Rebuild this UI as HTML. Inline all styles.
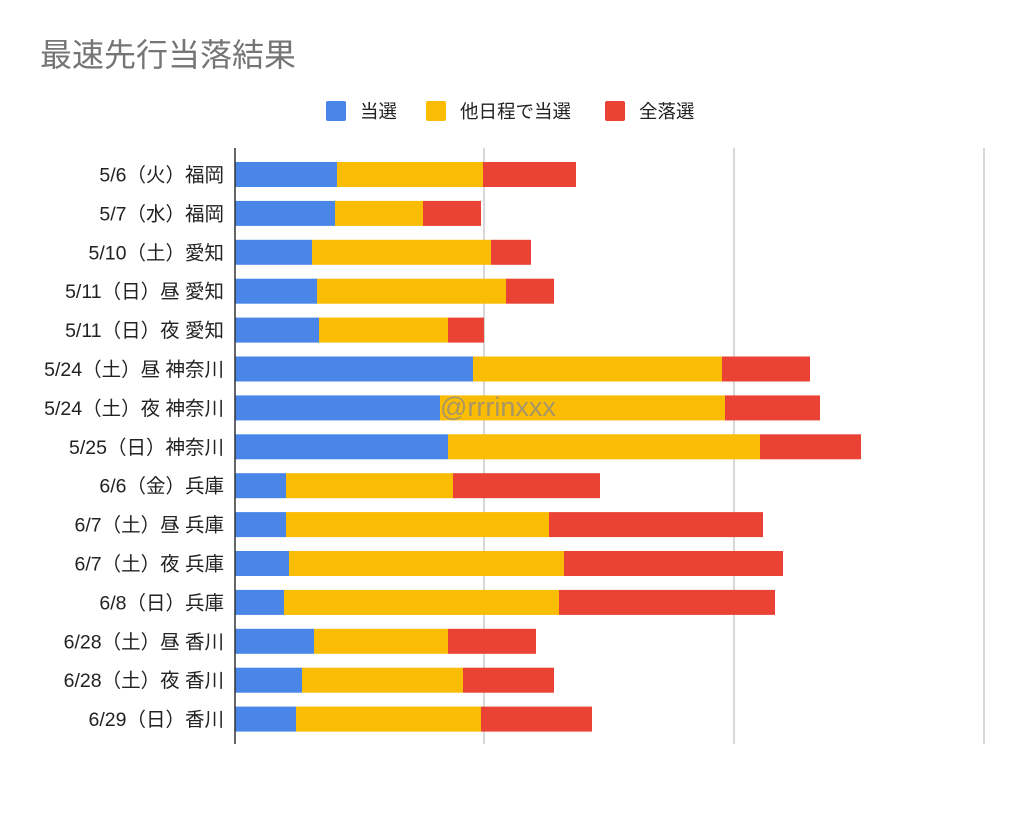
<!DOCTYPE html>
<html><head><meta charset="utf-8"><style>
body{margin:0;background:#fff}
text{font-family:"Liberation Sans","Noto Sans CJK JP",sans-serif}
</style></head><body>
<svg width="1024" height="815" xmlns="http://www.w3.org/2000/svg">
<rect width="1024" height="815" fill="#fff"/>
<text x="40" y="66" font-size="32" fill="#757575">最速先行当落結果</text>
<rect x="326" y="101" width="20" height="20" rx="2" fill="#4a86e8"/>
<text x="360" y="118" font-size="18.5" fill="#222">当選</text>
<rect x="426" y="101" width="20" height="20" rx="2" fill="#fbbc04"/>
<text x="460" y="118" font-size="18.5" fill="#222">他日程で当選</text>
<rect x="605" y="101" width="20" height="20" rx="2" fill="#ea4335"/>
<text x="639" y="118" font-size="18.5" fill="#222">全落選</text>
<g stroke="#ccc" stroke-width="1.5">
<line x1="484" y1="148" x2="484" y2="744"/>
<line x1="734" y1="148" x2="734" y2="744"/>
<line x1="984" y1="148" x2="984" y2="744"/>
</g>
<g id="bars"></g>
<line x1="235" y1="148" x2="235" y2="744" stroke="#333" stroke-width="1.5"/>
<text x="440" y="416" font-size="27" fill="#8a8a8a" fill-opacity="0.75">@rrrinxxx</text>
<g font-size="19.5" fill="#222" text-anchor="end" id="labels"></g>
<script>
var d=[["5/6（火）福岡",337,483,576],["5/7（水）福岡",335,423,481],["5/10（土）愛知",312,491,531],["5/11（日）昼 愛知",317,506,554],["5/11（日）夜 愛知",319,448,484],["5/24（土）昼 神奈川",473,722,810],["5/24（土）夜 神奈川",440,725,820],["5/25（日）神奈川",448,760,861],["6/6（金）兵庫",286,453,600],["6/7（土）昼 兵庫",286,549,763],["6/7（土）夜 兵庫",289,564,783],["6/8（日）兵庫",284,559,775],["6/28（土）昼 香川",314,448,536],["6/28（土）夜 香川",302,463,554],["6/29（日）香川",296,481,592]];
var ns="http://www.w3.org/2000/svg",b=document.getElementById("bars"),l=document.getElementById("labels");
d.forEach(function(r,i){var cy=174.5+i*38.9,y=cy-12.5;
function R(x1,x2,c){var e=document.createElementNS(ns,"rect");e.setAttribute("x",x1);e.setAttribute("y",y);e.setAttribute("width",x2-x1);e.setAttribute("height",25);e.setAttribute("fill",c);b.appendChild(e);}
R(235,r[1],"#4a86e8");R(r[1],r[2],"#fbbc04");R(r[2],r[3],"#ea4335");
var t=document.createElementNS(ns,"text");t.setAttribute("x",224);t.setAttribute("y",cy+7);t.textContent=r[0];l.appendChild(t);});
</script>
</svg>
</body></html>
